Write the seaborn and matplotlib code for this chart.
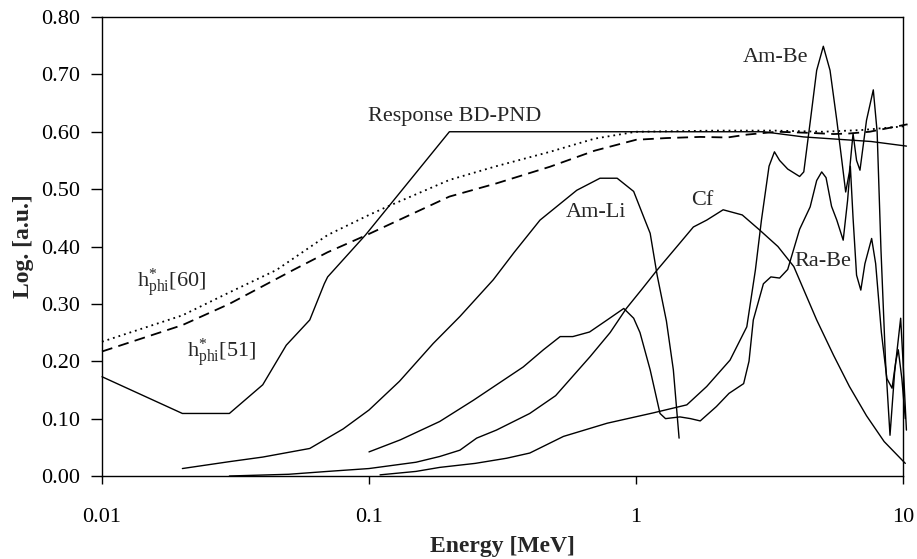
import matplotlib
matplotlib.use("Agg")
import numpy as np
import pandas as pd
import seaborn as sns
import matplotlib.pyplot as plt
from matplotlib.ticker import FixedLocator, FixedFormatter, NullLocator

# ---- data: energy [MeV] and response / spectra [a.u.] ----
resp_e = [0.01, 0.02, 0.03, 0.04, 0.049, 0.06, 0.068, 0.07, 0.097, 0.2, 1.0, 3.0, 4.24, 7.6, 10.3]
resp_v = [0.173, 0.109, 0.109, 0.159, 0.228, 0.272, 0.335, 0.347, 0.42, 0.60, 0.60, 0.60, 0.591, 0.583, 0.575]

h60_e = [0.01, 0.02, 0.03, 0.045, 0.07, 0.1, 0.1165, 0.2, 0.3, 0.476, 0.7, 1.0, 2.0, 3.3, 5.0, 7.0, 10.4]
h60_v = [0.234, 0.28, 0.32, 0.359, 0.42, 0.455, 0.469, 0.516, 0.54, 0.565, 0.588, 0.60, 0.602, 0.602, 0.60, 0.603, 0.61]

h51_e = [0.01, 0.02, 0.03, 0.052, 0.07, 0.098, 0.2, 0.3, 0.476, 0.7, 1.0, 1.3, 1.74, 2.2, 2.6, 3.37, 4.5, 5.5, 6.3, 7.5, 10.4]
h51_v = [0.217, 0.263, 0.30, 0.359, 0.39, 0.42, 0.487, 0.51, 0.539, 0.567, 0.586, 0.589, 0.591, 0.59, 0.595, 0.600, 0.598, 0.596, 0.597, 0.600, 0.613]

amli_e = [0.02, 0.03, 0.04, 0.06, 0.08, 0.1, 0.13, 0.174, 0.219, 0.292, 0.35, 0.437, 0.6, 0.733, 0.85,
          0.98, 1.08, 1.13, 1.2, 1.3, 1.38, 1.45]
amli_v = [0.013, 0.025, 0.033, 0.048, 0.082, 0.115, 0.165, 0.231, 0.278, 0.342, 0.39, 0.446, 0.498, 0.519, 0.519,
          0.496, 0.446, 0.423, 0.35, 0.27, 0.185, 0.066]

cf_e = [0.03, 0.05, 0.07, 0.1, 0.15, 0.184, 0.219, 0.253, 0.3, 0.4, 0.5, 0.673, 0.8, 0.92, 1.05, 1.2, 1.46,
        1.64, 1.84, 2.12, 2.5, 2.9, 3.4, 3.9, 4.2, 4.75, 5.5, 6.3, 7.3, 8.5, 10.2]
cf_v = [0.0, 0.003, 0.008, 0.013, 0.024, 0.034, 0.045, 0.066, 0.08, 0.109, 0.14, 0.208, 0.25, 0.292, 0.325,
        0.359, 0.406, 0.434, 0.446, 0.464, 0.455, 0.429, 0.40, 0.365, 0.33, 0.272, 0.21, 0.156, 0.105, 0.06, 0.022]

rabe_e = [0.1, 0.131, 0.184, 0.246, 0.378, 0.45, 0.52, 0.58, 0.67, 0.78, 0.9, 0.98, 1.035, 1.13, 1.23, 1.29,
          1.46, 1.6, 1.74, 2.0, 2.23, 2.53, 2.65, 2.75, 3.0, 3.2, 3.45, 3.7, 4.1, 4.49, 4.75, 4.96, 5.15,
          5.4, 5.65, 5.97, 6.2, 6.35, 6.5, 6.7, 6.95, 7.2, 7.63, 7.9, 8.3, 8.7, 9.1, 9.4, 9.6, 9.9, 10.2]
rabe_v = [0.042, 0.063, 0.095, 0.132, 0.19, 0.22, 0.243, 0.243, 0.251, 0.272, 0.292, 0.275, 0.25, 0.185, 0.109, 0.10,
          0.103, 0.10, 0.096, 0.121, 0.144, 0.161, 0.20, 0.272, 0.335, 0.347, 0.345, 0.36, 0.43, 0.469, 0.515, 0.530, 0.52,
          0.47, 0.446, 0.411, 0.48, 0.54, 0.45, 0.35, 0.324, 0.37, 0.414, 0.37, 0.25, 0.17, 0.153, 0.20, 0.22, 0.17, 0.10]

ambe_e = [0.11, 0.15, 0.184, 0.25, 0.328, 0.4, 0.535, 0.78, 1.16, 1.55, 1.84, 2.25, 2.6, 2.8, 2.95, 3.15, 3.3,
          3.45, 3.7, 4.1, 4.25, 4.5, 4.75, 5.03, 5.33, 5.65, 5.9, 6.1, 6.3, 6.5, 6.7, 6.9, 7.3, 7.74, 8.0,
          8.27, 8.6, 8.94, 9.3, 9.8, 10.0, 10.3]
ambe_v = [0.002, 0.008, 0.015, 0.022, 0.031, 0.040, 0.069, 0.092, 0.110, 0.124, 0.156, 0.202, 0.26, 0.359, 0.446,
          0.54, 0.565, 0.55, 0.535, 0.522, 0.53, 0.62, 0.707, 0.749, 0.707, 0.62, 0.55, 0.495, 0.53, 0.597, 0.55,
          0.533, 0.62, 0.673, 0.60, 0.394, 0.2, 0.071, 0.18, 0.275, 0.2, 0.08]

x_ticks = [0.01, 0.1, 1, 10]
x_tick_labels = ["0.01", "0.1", "1", "10"]
y_ticks = [0.0, 0.1, 0.2, 0.3, 0.4, 0.5, 0.6, 0.7, 0.8]
y_tick_labels = ["0.00", "0.10", "0.20", "0.30", "0.40", "0.50", "0.60", "0.70", "0.80"]

# ---- style ----
sns.set_theme(style="ticks")
plt.rcParams["font.family"] = ["Liberation Serif", "DejaVu Serif"]
plt.rcParams["mathtext.fontset"] = "custom"
plt.rcParams["mathtext.rm"] = "Liberation Serif"
plt.rcParams["mathtext.it"] = "Liberation Serif:italic"
plt.rcParams["mathtext.bf"] = "Liberation Serif:bold"

W, H = 917, 559
fig = plt.figure(figsize=(W / 100, H / 100), dpi=100)
ax = fig.add_axes([102 / W, 1 - 476 / H, (903 - 102) / W, (476 - 17) / H])
ax.set_xscale("log")

curves = [
    (resp_e, resp_v, "-", 1.0),
    (h60_e, h60_v, (0, (1.0, 2.2)), 1.3),
    (h51_e, h51_v, (0, (6.0, 3.5)), 1.3),
    (amli_e, amli_v, "-", 1.0),
    (cf_e, cf_v, "-", 1.0),
    (rabe_e, rabe_v, "-", 1.0),
    (ambe_e, ambe_v, "-", 1.0),
]
for e, v, ls, lw in curves:
    df = pd.DataFrame({"E": e, "v": v})
    sns.lineplot(data=df, x="E", y="v", ax=ax, color="black", linewidth=lw,
                 linestyle=ls, sort=False, estimator=None, clip_on=False)

ax.set_xlim(0.01, 10)
ax.set_ylim(0, 0.8)
ax.xaxis.set_major_locator(FixedLocator(x_ticks))
ax.xaxis.set_major_formatter(FixedFormatter(x_tick_labels))
ax.xaxis.set_minor_locator(NullLocator())
ax.yaxis.set_major_locator(FixedLocator(y_ticks))
ax.yaxis.set_major_formatter(FixedFormatter(y_tick_labels))

for s in ax.spines.values():
    s.set_color("black")
    s.set_linewidth(1.0)
ax.tick_params(axis="x", direction="out", length=6, width=1, pad=17, labelsize=16, colors="black")
ax.tick_params(axis="y", direction="out", length=8, width=1, pad=8, labelsize=16, colors="black")

ax.set_xlabel("Energy [MeV]", fontsize=17, fontweight="bold")
ax.set_ylabel("Log. [a.u.]", fontsize=17, fontweight="bold")
ax.xaxis.set_label_coords(0.5, -0.13)
ax.yaxis.set_label_coords(-0.085, 0.5)

# ---- curve labels ----
fs = 16
ax.text(0.21, 0.626, "Response BD-PND", fontsize=fs, ha="center", va="center")
ax.text(3.34, 0.730, "Am-Be", fontsize=fs, ha="center", va="center")
ax.text(0.708, 0.46, "Am-Li", fontsize=fs, ha="center", va="center")
ax.text(1.77, 0.481, "Cf", fontsize=fs, ha="center", va="center")
ax.text(5.01, 0.373, "Ra-Be", fontsize=fs, ha="center", va="center")
ax.text(0.0135, 0.336, r"$\mathrm{h}^{*}_{\mathrm{phi}}$[60]", fontsize=fs, ha="left", va="center")
ax.text(0.0208, 0.214, r"$\mathrm{h}^{*}_{\mathrm{phi}}$[51]", fontsize=fs, ha="left", va="center")

fig.savefig("out.png", dpi=100)
